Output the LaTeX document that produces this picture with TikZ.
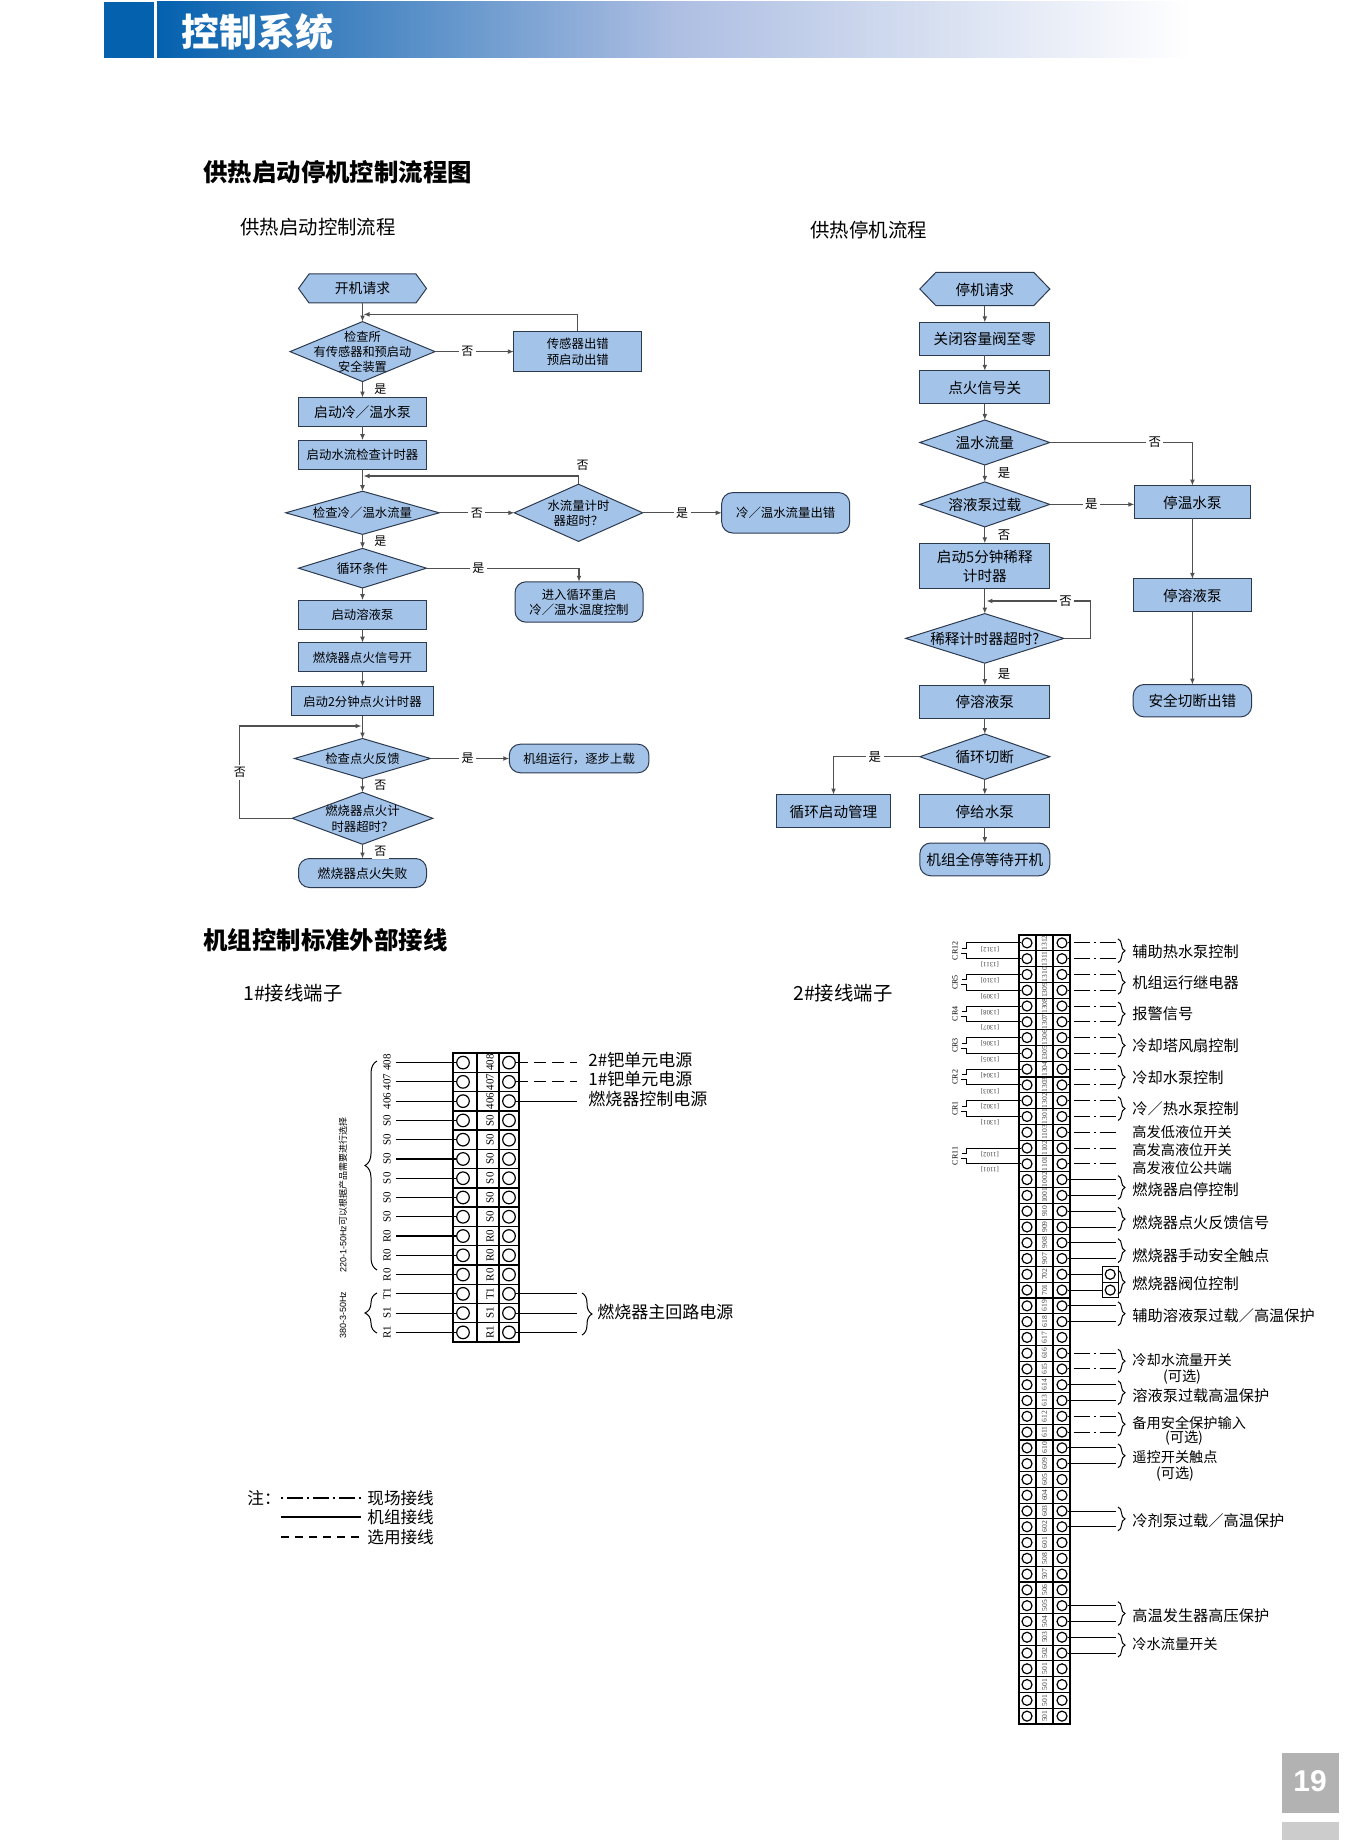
\documentclass[tikz,border=0pt]{standalone}
\usepackage{fontspec}
\setmainfont{Noto Sans CJK SC}
\newfontfamily\serifnum{Liberation Serif}
\newfontfamily\arialnum{Liberation Sans}
\usetikzlibrary{shapes.geometric,shapes.symbols,arrows.meta,decorations.pathreplacing}
\definecolor{flowblue}{HTML}{A3C3E9}
\definecolor{flowedge}{HTML}{2C3A50}
\definecolor{flowline}{HTML}{505050}
\definecolor{barblue}{HTML}{0461AE}
\definecolor{barmid}{HTML}{ADBEE2}
\newcommand{\fsize}[1]{\fontsize{#1}{\fpeval{1.26*#1}}\selectfont}
\newcommand{\mline}[1]{\begin{tabular}{@{}c@{}}#1\end{tabular}}
\newcommand{\dtext}[1]{\smash{\makebox[0pt]{\raisebox{-.4em}{\mline{#1}}}}}
\newcommand{\wslash}{\char"FF0F\relax}
\newcommand{\wcomma}{\char"FF0C\relax}
\newcommand{\wquery}{\char"FF1F\relax}
\newcommand{\wcolon}{\char"FF1A\relax}
\tikzset{
  flownode/.style={draw=flowedge,fill=flowblue,line width=.5pt,inner sep=0pt,outer sep=0pt},
  hexbox/.style={flownode,signal,signal to=east and west,signal pointer angle=108},
  dbox/.style={flownode,diamond},
  pill/.style={flownode,rectangle,rounded corners=5.5pt},
  startbox/.style={flownode,rectangle,minimum width=64pt,minimum height=14.5pt,font=\fsize{6.2}},
  stopbox/.style={flownode,rectangle,minimum width=65pt,minimum height=16.4pt,font=\fsize{7.3}},
  link/.style={draw=flowline,line width=.55pt},
  yesno/.style={fill=white,inner sep=1.2pt,font=\fsize{6}},
  yesnob/.style={fill=white,inner sep=1.2pt,font=\fsize{6.2}},
  wire/.style={draw=black,line width=.55pt},
  fieldwire/.style={wire,dash pattern=on 1pt off 2pt on 8pt off 2pt},
  optwire/.style={wire,dash pattern=on 6pt off 3pt},
  plainwire/.style={wire},
  pincirc/.style={circle,draw=black,line width=.6pt,inner sep=0pt},
  bracemark/.style={draw=black,line width=.5pt,decorate,decoration={brace,amplitude=3.5pt}},
  note/.style={anchor=west,inner sep=0pt,yshift=-.5pt,font=\fsize{7.6}},
  notes/.style={anchor=west,inner sep=0pt,font=\fsize{7.1}},
  head/.style={anchor=west,inner sep=0pt,font=\fsize{12.2}\bfseries},
  subhead/.style={anchor=west,inner sep=0pt,font=\fsize{9.7}}
}
\begin{document}
\begin{tikzpicture}[x=.5pt,y=-.5pt,>={Latex[length=3pt,width=2.4pt]}]
\useasboundingbox (0,0) rectangle (1345,1840);
% header and page number
\fill [barblue] (103.5,2) rectangle (153.5,58);
\shade [left color=barblue,right color=barmid] (157,2) rectangle (673,58);
\shade [left color=barmid,right color=white] (673,2) rectangle (1190,58);
\node [anchor=west,inner sep=0pt,text=white,font=\fsize{19}\bfseries] at (181,32) (bartitle) {控制系统};
\fill [black!30] (1282,1753) rectangle (1339,1813);
\fill [black!20] (1282,1822) rectangle (1339,1840);
\node [text=white,inner sep=0pt,font=\arialnum\fsize{15}\bfseries] at (1310,1781) (pageno) {19};
% titles
\node [head] at (203,172) (title1) {供热启动停机控制流程图};
\node [subhead] at (240,227) (title2) {供热启动控制流程};
\node [subhead] at (810,230) (title3) {供热停机流程};
\node [head] at (203,940) (title4) {机组控制标准外部接线};
\node [subhead] at (243,993.5) (title5) {1\#接线端子};
\node [subhead] at (793,993.5) (title6) {2\#接线端子};
% start-up flow
\node [hexbox,minimum width=64pt,minimum height=14.5pt,font=\fsize{6.9}] at (362.5,288.5) (start) {\dtext{开机请求}};
\node [dbox,minimum width=72.5pt,minimum height=30pt,font=\fsize{6.1},below=9.3pt,at=(start.south)] (sensor) {\dtext{\raisebox{1pt}{\mline{检查所\\有传感器和预启动\\安全装置}}}};
\node [startbox,minimum height=20.2pt,right=39.4pt,at=(sensor.east)] (senserr) {\dtext{传感器出错\\预启动出错}};
\node [startbox,minimum height=14.3pt,font=\fsize{6.9},below=8pt,at=(sensor.south)] (pump) {\dtext{启动冷\wslash 温水泵}};
\node [startbox,below=7pt,at=(pump.south)] (timer) {\dtext{启动水流检查计时器}};
\node [dbox,minimum width=76.8pt,minimum height=21.6pt,font=\fsize{6.2},below=11pt,at=(timer.south)] (flow) {\dtext{检查冷\wslash 温水流量}};
\node [dbox,minimum width=64.2pt,minimum height=28.6pt,font=\fsize{6.2},right=37.5pt,at=(flow.east)] (flowtime) {\dtext{水流量计时\\器超时\wquery}};
\node [pill,minimum width=64pt,minimum height=20.2pt,font=\fsize{6.2},right=39.5pt,at=(flowtime.east)] (flowerr) {\dtext{冷\wslash 温水流量出错}};
\node [dbox,minimum width=64pt,minimum height=19.8pt,font=\fsize{6.4},below=7pt,at=(flow.south)] (cycle) {\dtext{循环条件}};
\node [pill,minimum width=64pt,minimum height=20.2pt,font=\fsize{6.2}] at (579,602) (restart) {\dtext{进入循环重启\\冷\wslash 温水温度控制}};
\node [startbox,below=6.1pt,at=(cycle.south)] (solpump) {\dtext{启动溶液泵}};
\node [startbox,below=6.75pt,at=(solpump.south)] (fire) {\dtext{燃烧器点火信号开}};
\node [startbox,minimum width=71pt,below=7.6pt,at=(fire.south)] (firetime) {\dtext{启动2分钟点火计时器}};
\node [dbox,minimum width=68pt,minimum height=20pt,font=\fsize{6.2},below=11.3pt,at=(firetime.south)] (feed) {\dtext{检查点火反馈}};
\node [pill,minimum width=69.8pt,minimum height=14.3pt,font=\fsize{6.2},right=39.4pt,at=(feed.east)] (run) {\dtext{机组运行\wcomma 逐步上载}};
\node [dbox,minimum width=70.3pt,minimum height=26pt,font=\fsize{6.2},below=6.9pt,at=(feed.south)] (burntime) {\dtext{燃烧器点火计\\时器超时\wquery}};
\node [pill,minimum width=64pt,minimum height=14.5pt,font=\fsize{6.4},below=7.1pt,at=(burntime.south)] (fail) {\dtext{燃烧器点火失败}};
\coordinate (join1) at (363.5,314.4);
\coordinate (join2) at (363.5,476);
\coordinate (loopa) at (239.8,726);
\coordinate (join3) at (361.5,726);

\draw [link,->] (start) -- (sensor);
\draw [link,->] (sensor) -- node [yesno,pos=.41] {否} (senserr);
\draw [link,->] (senserr.north) |- (join1);
\draw [link,->] (sensor) -- node [yesno,right=4.5pt] {是} (pump);
\draw [link,->] (pump) -- (timer);
\draw [link,->] (timer) -- (flow);
\draw [link,->] (flow) -- node [yesno,pos=.5] {否} (flowtime);
\draw [link,->] (flowtime.north) |- node [yesno,pos=.5,above=1.5pt,xshift=2pt] {否} (join2);
\draw [link,->] (flowtime) -- node [yesno,pos=.5] {是} (flowerr);
\draw [link,->] (flow) -- node [yesno,right=4.5pt] {是} (cycle);
\draw [link,->] (cycle.east) -| node [yesno,pos=.17] {是} (restart.north);
\draw [link,->] (cycle) -- (solpump);
\draw [link,->] (solpump) -- (fire);
\draw [link,->] (fire) -- (firetime);
\draw [link,->] (firetime) -- (feed);
\draw [link,->] (feed) -- node [yesno,pos=.47] {是} (run);
\draw [link,->] (feed) -- node [yesno,right=4.5pt] {否} (burntime);
\draw [link,->] (burntime) -- node [yesno,right=4.5pt] {否} (fail);
\draw [link,->] (burntime.west) -| node [yesno,pos=.75] {否} (loopa) -- (join3);
% shut-down flow
\node [hexbox,signal pointer angle=92,minimum width=65pt,minimum height=16.6pt,font=\fsize{7.3}] at (984.8,289) (stop) {\dtext{停机请求}};
\node [stopbox,below=8.4pt,at=(stop.south)] (valve) {\dtext{关闭容量阀至零}};
\node [stopbox,below=7.8pt,at=(valve.south)] (fireoff) {\dtext{点火信号关}};
\node [dbox,minimum width=65pt,minimum height=22.5pt,font=\fsize{7.3},below=8.2pt,at=(fireoff.south)] (warm) {\dtext{温水流量}};
\node [dbox,minimum width=65pt,minimum height=22.5pt,font=\fsize{7.3},below=8.45pt,at=(warm.south)] (over) {\dtext{溶液泵过载}};
\node [stopbox,minimum height=22.7pt,below=8.2pt,at=(over.south)] (dilute) {\dtext{启动5分钟稀释\\计时器}};
\node [dbox,minimum width=79.1pt,minimum height=24.8pt,font=\fsize{7.3},below=12.45pt,at=(dilute.south)] (dilutetime) {\dtext{稀释计时器超时?}};
\node [stopbox,below=11pt,at=(dilutetime.south)] (solstop) {\dtext{停溶液泵}};
\node [dbox,minimum width=65pt,minimum height=22.7pt,font=\fsize{7.3},below=8pt,at=(solstop.south)] (cut) {\dtext{循环切断}};
\node [stopbox,below=7.6pt,at=(cut.south)] (feedstop) {\dtext{停给水泵}};
\node [pill,minimum width=65pt,minimum height=16.4pt,font=\fsize{7.3},below=7.8pt,at=(feedstop.south)] (allstop) {\dtext{机组全停等待开机}};
\node [stopbox,minimum width=57.3pt,left=14.5pt,at=(feedstop.west)] (cyclemgr) {\dtext{循环启动管理}};
\node [stopbox,minimum width=58.1pt] at (1192.4,502) (warmstop) {\dtext{停温水泵}};
\node [stopbox,minimum width=58.8pt,below=30.25pt,at=(warmstop.south)] (solstop2) {\dtext{停溶液泵}};
\node [pill,minimum width=59.2pt,minimum height=16.2pt,font=\fsize{7.3},below=36.4pt,at=(solstop2.south)] (safe) {\dtext{安全切断出错}};
\coordinate (loopb) at (1090.6,601);
\coordinate (join4) at (986.4,601);

\draw [link,->] (stop) -- (valve);
\draw [link,->] (valve) -- (fireoff);
\draw [link,->] (fireoff) -- (warm);
\draw [link,->] (warm) -- node [yesnob,right=5pt] {是} (over);
\draw [link,->] (warm.east) -| node [yesnob,pos=.368] {否} (warmstop.north);
\draw [link,->] (over.east) -- node [yesnob,pos=.49] {是} (over.east -| warmstop.west);
\draw [link,->] (over) -- node [yesnob,right=5pt] {否} (dilute);
\draw [link,->] (dilute) -- (dilutetime);
\draw [link,->] (dilutetime.east) -| (loopb) -- node [yesnob,pos=.24] {否} (join4);
\draw [link,->] (dilutetime) -- node [yesnob,right=5pt] {是} (solstop);
\draw [link,->] (solstop) -- (cut);
\draw [link,->] (cut) -- (feedstop);
\draw [link,->] (feedstop) -- (allstop);
\draw [link,->] (cut.west) -| node [yesnob,pos=.26] {是} (cyclemgr.north);
\draw [link,->] (warmstop) -- (solstop2);
\draw [link,->] (solstop2) -- (safe);
% terminal strip 1
\draw [wire,line width=.7pt] (453,1053) rectangle (519,1342);
\draw [wire,line width=.7pt] (477,1053) -- (477,1342) (499,1053) -- (499,1342);
\foreach \i/\t in {0/408,1/407,2/406,3/S0,4/S0,5/S0,6/S0,7/S0,8/S0,9/R0,10/R0,11/R0,12/T1,13/S1,14/R1} {
  \pgfmathsetmacro{\y}{1062.6+19.27*\i}
  \node [pincirc,minimum size=6.3pt] at (463,\y) (pa\i) {};
  \node [pincirc,minimum size=6.3pt] at (509,\y) (pb\i) {};
  \node [rotate=90,inner sep=0pt,font=\serifnum\fsize{5.5}] at (490,\y) (pm\i) {\t};
  \node [rotate=90,inner sep=0pt,font=\serifnum\fsize{5.5}] at (387,\y) (pl\i) {\t};
  \coordinate (pw\i) at (396,\y);
  \coordinate (pr\i) at (577,\y);
  \draw [plainwire] (pw\i) -- (pa\i);
  \ifnum\i<14 \draw [wire,line width=.7pt] (453,{1053+19.27*(\i+1)}) -- (519,{1053+19.27*(\i+1)}); \fi
}
\draw [optwire] (pb0) -- (pr0);
\draw [optwire] (pb1) -- (pr1);
\draw [plainwire] (pb2) -- (pr2);
\draw [plainwire] (pb12) -- (pr12);
\draw [plainwire] (pb13) -- (pr13);
\draw [plainwire] (pb14) -- (pr14);
\draw [bracemark,decoration={amplitude=6pt}] (377,1270) -- (377,1061);
\draw [bracemark,decoration={amplitude=6pt}] (377,1333) -- (377,1293);
\draw [bracemark,decoration={amplitude=5pt}] (582,1293) -- (582,1335);
\node [rotate=90,inner sep=0pt,font=\arialnum\fsize{4.5}] at (343,1195) (range1) {220-1-50Hz{\rmfamily 可以根据产品需要进行选择}};
\node [rotate=90,inner sep=0pt,font=\arialnum\fsize{4.5}] at (343,1315) (range2) {380-3-50Hz};
\node [anchor=west,inner sep=0pt,font=\fsize{8.5}] at (588,1060) (pwr2) {2\#钯单元电源};
\node [anchor=west,inner sep=0pt,font=\fsize{8.5}] at (588,1079) (pwr1) {1\#钯单元电源};
\node [anchor=west,inner sep=0pt,font=\fsize{8.5}] at (588,1099) (pwr0) {燃烧器控制电源};
\node [anchor=west,inner sep=0pt,font=\fsize{8.5}] at (597,1312) (pwrm) {燃烧器主回路电源};
% legend
\node [anchor=west,inner sep=0pt,font=\fsize{8.3}] at (247,1498) (legnote) {注\wcolon};
\coordinate (lega) at (281,1498);
\coordinate (legb) at (361,1498);
\coordinate (legc) at (281,1517);
\coordinate (legd) at (361,1517);
\coordinate (lege) at (281,1537);
\coordinate (legf) at (361,1537);
\draw [fieldwire] (lega) -- (legb);
\draw [plainwire] (legc) -- (legd);
\draw [wire,dash pattern=on 4pt off 3pt] (lege) -- (legf);
\node [anchor=west,inner sep=0pt,font=\fsize{8.3}] at (367,1498) (leg1) {现场接线};
\node [anchor=west,inner sep=0pt,font=\fsize{8.3}] at (367,1517) (leg2) {机组接线};
\node [anchor=west,inner sep=0pt,font=\fsize{8.3}] at (367,1537) (leg3) {选用接线};
% terminal strip 2
\draw [wire] (1019,935) rectangle (1070,1724);
\draw [wire] (1036,935) -- (1036,1724) (1053,935) -- (1053,1724);
\foreach \i/\t [count=\c from 1] in {0/1312,1/1311,2/1310,3/1309,4/1308,5/1307,6/1306,7/1305,8/1304,9/1303,10/1302,11/1301,12/1103,13/1102,14/1101,15/1002,16/1001,17/910,18/909,19/908,20/907,21/702,22/701,23/619,24/618,25/617,26/616,27/615,28/614,29/613,30/612,31/611,32/610,33/609,34/605,35/604,36/603,37/602,38/601,39/508,40/507,41/506,42/505,43/504,44/503,45/502,46/501,47/501,48/501,49/501} {
  \pgfmathsetmacro{\y}{942.9+15.78*\i}
  \node [pincirc,minimum size=5pt] at (1027,\y) (ra\i) {};
  \node [pincirc,minimum size=5pt] at (1062,\y) (rb\i) {};
  \node [rotate=90,inner sep=0pt,text=black!75,font=\serifnum\fsize{3.8}] at (1044.5,\y) (rm\i) {\t};
  \coordinate (re\i) at (1116,\y);
  \ifnum\c<50 \draw [wire] (1019,{935+15.78*\c}) -- (1070,{935+15.78*\c}); \fi
}
% relays
\foreach \p/\q/\cr/\u/\v in {0/1/CR12/1312/1311,2/3/CR5/1310/1309,4/5/CR4/1308/1307,6/7/CR3/1306/1305,8/9/CR2/1304/1303,10/11/CR1/1302/1301,13/14/CR11/1102/1101} {
  \pgfmathsetmacro{\ya}{942.9+15.78*\p}
  \pgfmathsetmacro{\yb}{942.9+15.78*\q}
  \coordinate (ca\p) at (966,\ya);
  \coordinate (cb\p) at (962,{(\ya+\yb)/2-2.5});
  \coordinate (cc\p) at (966,\yb);
  \coordinate (cd\p) at (961,{(\ya+\yb)/2+2.5});
  \draw [plainwire,line width=.45pt] (ra\p) -- (ca\p) |- (cb\p);
  \draw [plainwire,line width=.45pt] (ra\q) -- (cc\p) |- (cd\p);
  \node [rotate=90,inner sep=0pt,font=\serifnum\fsize{4}] at (955,{(\ya+\yb)/2}) (cr\p) {\cr};
  \node [rotate=180,inner sep=0pt,text=black!75,font=\serifnum\fsize{3.4}] at (990,\ya+6) (up\p) {[\u]};
  \node [rotate=180,inner sep=0pt,text=black!75,font=\serifnum\fsize{3.4}] at (990,\yb+6) (lo\p) {[\v]};
}
% outgoing wires
\foreach \i in {0,...,14,26,27,30,31} \draw [fieldwire,line width=.5pt] (rb\i) -- (re\i);
\foreach \i in {15,...,20,23,24,28,29,32,33,36,37,42,43,44,45} \draw [plainwire,line width=.45pt] (rb\i) -- (re\i);
\foreach \i in {21,22} {
  \node [draw=black,line width=.45pt,inner sep=0pt,minimum size=7.75pt,anchor=west] at (1102,{942.9+15.78*\i}) (cell\i) {};
  \node [pincirc,minimum size=5pt] at (cell\i.center) (vc\i) {};
  \draw [plainwire,line width=.45pt] (rb\i) -- (cell\i);
}
% braces
\foreach \p/\q in {0/1,2/3,4/5,6/7,8/9,10/11,15/16,17/18,19/20,21/22,23/24,26/27,28/29,30/31,32/33,36/37,42/43,44/45}
  \draw [bracemark] (1118,{942.9+15.78*\p-4}) -- (1118,{942.9+15.78*\q+4});
% terminal notes
\foreach \y/\t [count=\c] in {951/辅助热水泵控制,982/机组运行继电器,1013/报警信号,1045/冷却塔风扇控制,1077/冷却水泵控制,1108/冷\wslash 热水泵控制,1189/燃烧器启停控制,1222/燃烧器点火反馈信号,1255/燃烧器手动安全触点,1283/燃烧器阀位控制,1315/辅助溶液泵过载\wslash 高温保护,1395/溶液泵过载高温保护,1520/冷剂泵过载\wslash 高温保护,1615/高温发生器高压保护}
  \node [note] at (1132,\y) (nta\c) {\t};
\foreach \y/\t [count=\c] in {1132/高发低液位开关,1150/高发高液位开关,1168/高发液位公共端,1360/冷却水流量开关,1423/备用安全保护输入,1457/遥控开关触点,1644/冷水流量开关}
  \node [notes] at (1132,\y) (ntb\c) {\t};
\foreach \x/\y [count=\c] in {1182/1377,1184/1438,1175/1474}
  \node [notes,anchor=center] at (\x,\y) (opt\c) {(可选)};
\end{tikzpicture}
\end{document}
